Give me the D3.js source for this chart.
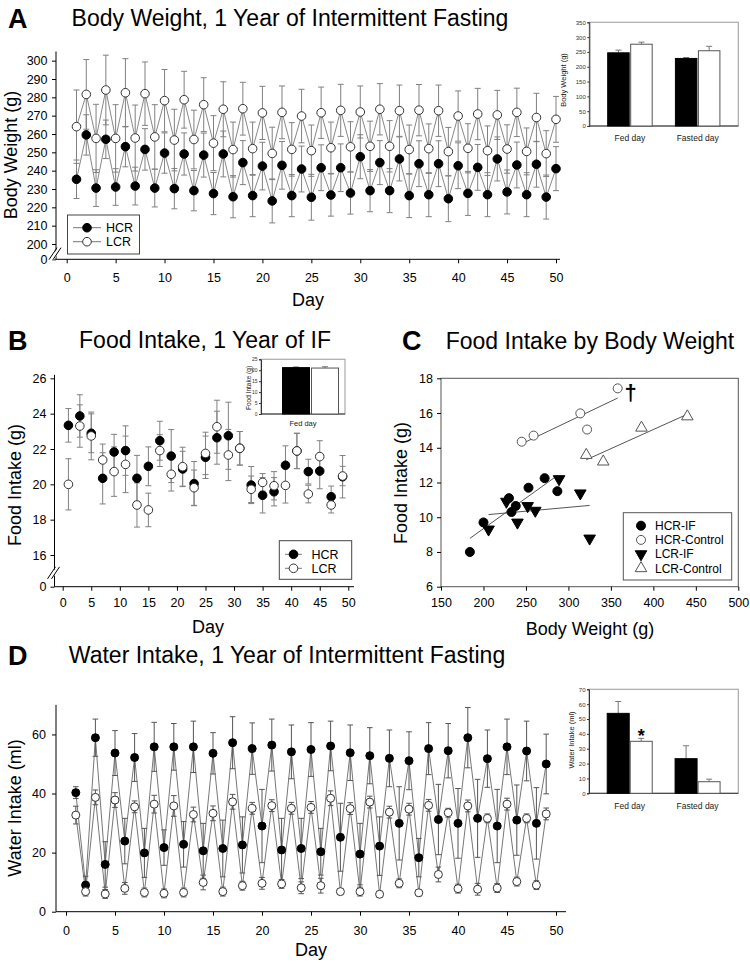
<!DOCTYPE html>
<html><head><meta charset="utf-8">
<script src="https://cdn.jsdelivr.net/npm/d3@7"></script>
<style>html,body{margin:0;padding:0;background:#fff;}</style>
</head><body>
<script>
// ---------------- DATA ----------------
// Panel A: body weight (g), days 1..50
const daysA = d3.range(1, 51);
const hcrWeight = [235.3,259.5,230.5,257.1,231.1,253.1,231.6,251.6,230.5,249.6,
  230.2,249.1,229.1,248.5,227.5,249.1,225.8,244.4,226.4,242.5,
  223.5,242.9,226.4,240.9,225.5,241.6,226.7,241.6,227.8,247.6,
  229.1,244.4,229.1,246.4,226.4,243.8,226.9,243.8,224.7,242.7,
  227.6,241.8,226.9,246.4,228.4,243.1,226.9,243.5,225.6,241.1];
const hcrWeightErr = [10.5,11,10,10.5,10,11,10.3,11.3,10.3,11,
  11,11.5,11,12,11.5,12.5,11.5,12,11.5,13,
  12,13,11.5,12.5,12.5,12.5,11.5,13,11.5,12,
  11.5,12,12,12,12,12.5,12,12.5,12.5,12.5,
  12,12.5,12,12,12,12.5,12,12.5,12,12];
const lcrWeight = [264,281.6,257.6,284,257.6,282.5,257.8,282,258.4,278.2,
  256.7,278.7,257,276,255,273.5,251.5,273.8,252,271.5,
  249.4,271.8,251.6,269.8,250.9,271.6,252.5,272.9,253,272,
  253.3,273.5,253.3,272.7,251.5,273,252,272.7,250.4,269.8,
  252.2,270.9,250.9,270.4,251.8,271.8,250.5,269,249.3,268];
const lcrWeightErr = [20,19,18.6,19,18.4,18.6,18,17.3,17.6,17,
  16.8,15.5,16,14.7,15,15,15,14.4,14.5,14.5,
  14.3,14.4,14.6,14.6,14,14,14,14.2,13.7,14.2,
  13.7,14,14,14,13.4,14,13.5,14,13.2,13.7,
  13.4,14,13.5,13.4,13.2,13.2,12.8,13.2,12.5,12.5];
const weightTicks = [0,200,210,220,230,240,250,260,270,280,290,300];
// Panel A inset
const insetCats = ["Fed day","Fasted day"];
const bwInsetHCR = [247,228], bwInsetHCRErr = [9,3];
const bwInsetLCR = [276,254], bwInsetLCRErr = [7,15];

// Panel B: food intake (g), odd days
const daysB = d3.range(1, 50, 2);
const hcrFood = [23.34,23.87,22.89,20.34,21.83,21.91,20.34,21.02,22.47,21.6,20.87,20.04,21.53,
  22.64,22.75,22.04,19.96,19.38,19.58,21.08,21.89,20.72,20.75,19.3,20.43];
const hcrFoodErr = [0.95,1.2,1.1,1.45,1.0,1.4,1.3,1.1,1.1,1.5,1.0,1.25,1.2,
  1.5,1.9,0.95,1.05,1.0,0.8,1.1,1.0,0.7,1.0,0.6,1.2];
const lcrFood = [20.0,23.3,22.74,21.38,20.72,21.13,18.83,18.55,21.91,20.57,21.0,19.81,21.75,
  23.26,21.66,22.04,19.72,20.11,19.92,19.94,21.89,19.45,21.57,18.83,20.47];
const lcrFoodErr = [1.45,1.2,1.35,0.9,1.4,1.6,1.25,0.95,0.9,0.95,1.1,1.0,1.2,
  1.5,1.45,0.95,0.75,0.5,0.8,1.0,1.0,0.5,0.9,0.45,0.55];
const foodTicks = [0,16,18,20,22,24,26];
const foodInsetCats = ["Fed day"];
const foodInsetHCR = [21.2], foodInsetHCRErr = [0.3];
const foodInsetLCR = [21.0], foodInsetLCRErr = [0.6];

// Panel C: food intake vs body weight
const hcrIfBW = [184,200,230,233,238,253,272,287];
const hcrIfFI = [8.0,9.7,11.1,10.3,10.65,11.7,12.25,11.5];
const hcrCtlBW = [245,259,314,322,358];
const hcrCtlFI = [14.35,14.7,15.98,15.05,17.42];
const lcrIfBW = [206,227,240,252,261,289,314,325];
const lcrIfFI = [9.3,10.9,9.7,10.65,10.38,12.2,11.38,8.78];
const lcrCtlBW = [321,341,386,440];
const lcrCtlFI = [13.58,13.2,15.15,15.8];
const groupNames = ["HCR-IF","HCR-Control","LCR-IF","LCR-Control"];

// Panel D: water intake (ml), days 1..49
const daysD = d3.range(1, 50);
const hcrWater = [40.3,9.0,58.9,16.0,53.7,23.9,52.2,19.9,55.8,21.7,
  55.8,22.8,55.8,20.6,53.6,21.4,57.2,22.6,55.2,29.0,
  56.4,20.9,54.1,21.4,54.9,20.3,56.1,25.2,53.8,19.5,
  52.8,22.2,51.9,29.9,51.1,18.3,55.2,31.2,54.5,29.9,
  58.9,31.6,51.8,29.0,55.8,31.0,54.4,29.9,50.0];
const hcrWaterErr = [2,3,6.3,7.7,7.6,7.7,8.1,8.3,8.3,6,
  7.9,7.7,8.7,9.3,7,9.6,8.8,9.5,8.7,12.4,
  8.8,10.7,9.1,10.2,9.1,7.9,8.4,11.5,9.4,10.4,
  9.5,9.9,9.6,12.4,9.8,6.5,8.8,11.9,9.2,11.8,
  10.2,13.2,9.7,12.4,9.4,11.9,10.1,12.1,10.1];
const lcrWater = [32.7,6.8,38.7,6.0,37.8,7.9,35.5,6.5,36.4,6.2,
  35.8,6.5,32.9,9.9,33.3,6.8,37.2,8.8,35.0,9.6,
  35.9,9.4,35.0,8.1,35.3,8.8,38.4,6.8,34.9,6.8,
  37.1,5.9,33.7,9.6,34.7,6.4,36.0,12.6,33.5,7.8,
  35.8,7.6,31.6,8.0,36.4,10.2,31.6,9.0,33.1];
const lcrWaterErr = [3,1.5,2.5,1.5,2.5,2,2,1.5,3,1.5,
  3.5,1.5,2.5,2.5,2.5,1.5,2.5,1.5,2,2,
  2,1.5,2,2,2,2.5,2.5,1,2,1.5,
  2,1,2,1.5,2,1,2,2.5,1.5,1.5,
  2,2,1.5,1.5,2,1.5,1.5,1.5,2];
const waterTicks = [0,20,40,60];
const waterInsetHCR = [53.8,23.3], waterInsetHCRErr = [8,8.7];
const waterInsetLCR = [35.0,7.8], waterInsetLCRErr = [2,1.7];

const dayTicks = d3.range(0, 51, 5);
const seriesNames = ["HCR","LCR"];

// ---------------- DRAWING ----------------
const FONT = "Arial, 'Liberation Sans', Helvetica, sans-serif";
const svg = d3.select("body").append("svg").attr("width",750).attr("height",965)
  .style("display","block").attr("font-family",FONT);

function txt(x, y, s, size, o = {}) {
  const t = svg.append("text").attr("x",x).attr("y",y).text(s).attr("font-size",size)
    .attr("font-family",FONT).attr("text-anchor",o.anchor || "start").attr("fill",o.fill || "#000");
  if (o.bold) t.attr("font-weight","bold");
  if (o.rotate) t.attr("transform",`rotate(-90,${x},${y})`);
  return t;
}
function styleAxis(a, fs, col) {
  a.attr("font-family",FONT);
  a.selectAll("text").attr("font-size",fs).attr("fill",col || "#000").attr("font-family",FONT);
  a.selectAll("line").attr("stroke",col || "#000");
}

function seriesPanel(o) {
  const g = svg.append("g");
  const x = d3.scaleLinear().domain([0,50]).range(o.xRange);
  const y = d3.scaleLinear().domain(o.yDomain).range(o.yRange);
  const yTop = o.yRange[o.yRange.length-1];
  g.append("line").attr("x1",o.axisX).attr("x2",o.axisX).attr("y1",yTop).attr("y2",o.axisY).attr("stroke","#000");
  g.append("line").attr("x1",o.axisX).attr("x2",o.xEnd).attr("y1",o.axisY).attr("y2",o.axisY).attr("stroke","#000");
  const gx = g.append("g").attr("transform",`translate(0,${o.axisY})`)
    .call(d3.axisBottom(x).tickValues(dayTicks).tickSize(4).tickPadding(o.xPad));
  const gy = g.append("g").attr("transform",`translate(${o.axisX},0)`)
    .call(d3.axisLeft(y).tickValues(o.yTicks).tickSize(4).tickPadding(o.yPad));
  [gx,gy].forEach(a => { a.select(".domain").remove(); styleAxis(a, o.fs); });
  if (o.brk) {
    const yb = (y(o.brk[0]) + y(o.brk[1]))/2 + 2, ax = o.axisX;
    g.append("polygon").attr("points",`${ax-6},${yb+6} ${ax+2},${yb-6} ${ax+6},${yb-6} ${ax-2},${yb+6}`).attr("fill","#fff");
    g.append("line").attr("x1",ax-7).attr("y1",yb+6).attr("x2",ax+1).attr("y2",yb-6).attr("stroke","#000");
    g.append("line").attr("x1",ax-3).attr("y1",yb+6).attr("x2",ax+5).attr("y2",yb-6).attr("stroke","#000");
  }
  const sets = o.series.map(s => s.days.map((d,i)=>({d, v:s.vals[i], e:s.errs[i]})));
  if (o.connect) sets.forEach(pts => {
    g.append("path").datum(pts).attr("d", d3.line().x(p=>x(p.d)).y(p=>y(p.v)))
      .attr("fill","none").attr("stroke",o.lineColor).attr("stroke-width",1);
  });
  sets.forEach(pts => {
    const eg = g.append("g").attr("stroke",o.errColor).attr("stroke-width",1);
    pts.forEach(p => {
      const cx = x(p.d), y1 = y(p.v - p.e), y2 = y(p.v + p.e);
      eg.append("line").attr("x1",cx).attr("x2",cx).attr("y1",y1).attr("y2",y2);
      eg.append("line").attr("x1",cx-o.cap).attr("x2",cx+o.cap).attr("y1",y1).attr("y2",y1);
      eg.append("line").attr("x1",cx-o.cap).attr("x2",cx+o.cap).attr("y1",y2).attr("y2",y2);
    });
  });
  sets.forEach((pts, si) => {
    g.append("g").selectAll("circle").data(pts).join("circle")
      .attr("cx",p=>x(p.d)).attr("cy",p=>y(p.v)).attr("r",o.r)
      .attr("fill", o.series[si].filled ? "#000" : "#fff")
      .attr("stroke", o.series[si].filled ? "#000" : "#333").attr("stroke-width",1);
  });
  return {x,y,g};
}

function legendBox(o) {
  const g = svg.append("g");
  g.append("rect").attr("x",o.x).attr("y",o.y).attr("width",o.w).attr("height",o.h)
    .attr("fill","#fff").attr("stroke","#444");
  seriesNames.forEach((n,i) => {
    const yy = o.y0 + i*o.dy;
    g.append("line").attr("x1",o.lx1).attr("x2",o.lx2).attr("y1",yy).attr("y2",yy).attr("stroke","#777");
    g.append("circle").attr("cx",(o.lx1+o.lx2)/2).attr("cy",yy).attr("r",o.r)
      .attr("fill", i===0 ? "#000" : "#fff").attr("stroke", i===0 ? "#000" : "#333");
    g.append("text").attr("x",o.tx).attr("y",yy+o.fs*0.36).text(n).attr("font-size",o.fs).attr("font-family",FONT);
  });
}

function barInset(o) {
  const g = svg.append("g");
  const x = d3.scalePoint().domain(o.cats).range([o.x0,o.x1]).padding(o.pad);
  const y = d3.scaleLinear().domain([0,o.yMax]).range([o.y1,o.y0]);
  g.append("rect").attr("x",o.x0).attr("y",o.y0).attr("width",o.x1-o.x0).attr("height",o.y1-o.y0)
    .attr("fill","none").attr("stroke","#aaa").attr("stroke-width",1.2);
  const gy = g.append("g").attr("transform",`translate(${o.x0},0)`)
    .call(d3.axisLeft(y).tickValues(d3.range(0,o.yMax+1e-6,o.yStep)).tickSize(2).tickPadding(1.5));
  gy.select(".domain").attr("stroke","#333");
  styleAxis(gy, o.tickFs, "#333");
  g.append("line").attr("x1",o.x0).attr("x2",o.x1).attr("y1",o.y1).attr("y2",o.y1).attr("stroke","#333");
  const series = [{vals:o.hcr, errs:o.hcrErr, fill:"#000"}, {vals:o.lcr, errs:o.lcrErr, fill:"#fff"}];
  series.forEach((s,si) => {
    o.cats.forEach((c,i) => {
      const cx = x(c) + o.offset;
      const bx = si===0 ? cx - o.gap/2 - o.barW : cx + o.gap/2;
      const mx = bx + o.barW/2;
      const yt = y(s.vals[i]), ye = y(s.vals[i] + s.errs[i]);
      g.append("line").attr("x1",mx).attr("x2",mx).attr("y1",yt).attr("y2",ye).attr("stroke","#777");
      g.append("line").attr("x1",mx-3).attr("x2",mx+3).attr("y1",ye).attr("y2",ye).attr("stroke","#777");
      g.append("rect").attr("x",bx).attr("y",yt).attr("width",o.barW).attr("height",o.y1-yt)
        .attr("fill",s.fill).attr("stroke",si===0 ? "#000" : "#555").attr("stroke-width",1);
    });
  });
  o.cats.forEach(c => {
    g.append("text").attr("x",x(c)).attr("y",o.catY).text(c).attr("text-anchor","middle")
      .attr("font-size",o.catFs).attr("font-family",FONT).attr("fill","#222");
  });
  g.append("text").attr("transform",`translate(${o.titleX},${o.titleY}) rotate(-90)`)
    .attr("text-anchor","middle").text(o.title).attr("font-size",o.titleFs).attr("font-family",FONT).attr("fill","#222");
  return {x,y,g};
}

// ===== Panel A =====
txt(8, 28, "A", 27, {bold:true});
txt(290, 26, "Body Weight, 1 Year of Intermittent Fasting", 23, {anchor:"middle"});
seriesPanel({
  xRange:[66.7,556], axisX:56, xEnd:560, axisY:259.3,
  yDomain:[0,200,305], yRange:[259.3,244,51.5], yTicks:weightTicks,
  xPad:10, yPad:4.5, fs:12.5, brk:[0,200],
  connect:true, lineColor:"#888", errColor:"#808080", cap:3, r:4.3,
  series:[{days:daysA, vals:hcrWeight, errs:hcrWeightErr, filled:true},
          {days:daysA, vals:lcrWeight, errs:lcrWeightErr, filled:false}]
});
legendBox({x:67.5, y:215, w:72, h:39, y0:227.7, dy:14, lx1:73, lx2:101, tx:106, r:4.3, fs:12.5});
txt(16.5, 155, "Body Weight (g)", 18, {anchor:"middle", rotate:true});
txt(308, 306, "Day", 18, {anchor:"middle"});
barInset({x0:589.3, x1:738.3, y0:22.3, y1:126, yMax:350, yStep:50, pad:0.6, offset:0,
  cats:insetCats, hcr:bwInsetHCR, hcrErr:bwInsetHCRErr, lcr:bwInsetLCR, lcrErr:bwInsetLCRErr,
  barW:21.5, gap:1.5, tickFs:6, catFs:8.5, catY:141, title:"Body Weight (g)", titleX:566, titleY:80, titleFs:7.5});

// ===== Panel B =====
txt(8, 350, "B", 27, {bold:true});
txt(205, 348, "Food Intake, 1 Year of IF", 23, {anchor:"middle"});
seriesPanel({
  xRange:[62.7,348.3], axisX:54.5, xEnd:354, axisY:586.7,
  yDomain:[0,16,26.2], yRange:[586.7,555,374.8], yTicks:foodTicks,
  xPad:7.6, yPad:4, fs:12.5, brk:[0,16],
  connect:false, errColor:"#808080", cap:3, r:4.3,
  series:[{days:daysB, vals:hcrFood, errs:hcrFoodErr, filled:true},
          {days:daysB, vals:lcrFood, errs:lcrFoodErr, filled:false}]
});
legendBox({x:279.3, y:540.7, w:72.4, h:38.6, y0:554.3, dy:14, lx1:285, lx2:302, tx:311.5, r:4.3, fs:12.5});
txt(21, 485, "Food Intake (g)", 18, {anchor:"middle", rotate:true});
txt(208, 633, "Day", 18, {anchor:"middle"});
barInset({x0:261, x1:345, y0:359.3, y1:414, yMax:25, yStep:5, pad:0.5, offset:7.5,
  cats:foodInsetCats, hcr:foodInsetHCR, hcrErr:foodInsetHCRErr, lcr:foodInsetLCR, lcrErr:foodInsetLCRErr,
  barW:27, gap:2, tickFs:5, catFs:7.5, catY:426, title:"Food Intake (g)", titleX:251, titleY:388, titleFs:6.5});

// ===== Panel C =====
txt(402, 350, "C", 27, {bold:true});
txt(590, 349, "Food Intake by Body Weight", 23, {anchor:"middle"});
(function(){
  const g = svg.append("g");
  const x = d3.scaleLinear().domain([150,500]).range([441,738.3]);
  const y = d3.scaleLinear().domain([6,18]).range([586.7,378.3]);
  g.append("rect").attr("x",441).attr("y",378.3).attr("width",297.3).attr("height",208.4)
    .attr("fill","none").attr("stroke","#555");
  const gx = g.append("g").attr("transform","translate(0,586.7)")
    .call(d3.axisBottom(x).tickValues(d3.range(150,501,50)).tickSize(4).tickPadding(7.6));
  const gy = g.append("g").attr("transform","translate(441,0)")
    .call(d3.axisLeft(y).tickValues(d3.range(6,18.1,2)).tickSize(4).tickPadding(4));
  [gx,gy].forEach(a => { a.select(".domain").remove(); styleAxis(a, 12.5); });
  const groups = [
    {bw:hcrIfBW, fi:hcrIfFI, shape:"circle", filled:true},
    {bw:hcrCtlBW, fi:hcrCtlFI, shape:"circle", filled:false},
    {bw:lcrIfBW, fi:lcrIfFI, shape:"down", filled:true},
    {bw:lcrCtlBW, fi:lcrCtlFI, shape:"up", filled:false}];
  // regression lines computed from the points
  groups.forEach(gr => {
    const mx = d3.mean(gr.bw), my = d3.mean(gr.fi);
    const sxy = d3.sum(gr.bw, (v,i) => (v-mx)*(gr.fi[i]-my));
    const sxx = d3.sum(gr.bw, v => (v-mx)*(v-mx));
    const b = sxy/sxx, a = my - b*mx;
    const [x0,x1] = d3.extent(gr.bw);
    g.append("line").attr("x1",x(x0)).attr("x2",x(x1)).attr("y1",y(a+b*x0)).attr("y2",y(a+b*x1))
      .attr("stroke","#555").attr("stroke-width",1);
  });
  const sym = d3.symbol().type(d3.symbolTriangle).size(58);
  function drawMark(gg, cx, cy, gr) {
    if (gr.shape === "circle") {
      gg.append("circle").attr("cx",cx).attr("cy",cy).attr("r",4.5)
        .attr("fill",gr.filled?"#000":"#fff").attr("stroke",gr.filled?"#000":"#555");
    } else {
      gg.append("path").attr("d",sym())
        .attr("transform",`translate(${cx},${cy})` + (gr.shape==="down"?" rotate(180)":""))
        .attr("fill",gr.filled?"#000":"#fff").attr("stroke",gr.filled?"#000":"#555");
    }
  }
  groups.forEach(gr => gr.bw.forEach((v,i) => drawMark(g, x(v), y(gr.fi[i]), gr)));
  // dagger beside the highest HCR-Control point
  const iMax = d3.maxIndex(hcrCtlFI);
  g.append("text").attr("x",x(hcrCtlBW[iMax])+13).attr("y",y(hcrCtlFI[iMax])+12).text("\u2020")
    .attr("text-anchor","middle").attr("font-size",22).attr("font-weight","bold").attr("font-family",FONT);
  // legend
  g.append("rect").attr("x",623.3).attr("y",512.7).attr("width",108.4).attr("height",67.3)
    .attr("fill","#fff").attr("stroke","#555");
  groupNames.forEach((n,i) => {
    const yy = 525.7 + i*14.2;
    drawMark(g, 641, yy, groups[i]);
    g.append("text").attr("x",655).attr("y",yy+4.3).text(n).attr("font-size",12).attr("font-family",FONT);
  });
})();
txt(407, 483, "Food Intake (g)", 18, {anchor:"middle", rotate:true});
txt(590, 635, "Body Weight (g)", 18, {anchor:"middle"});

// ===== Panel D =====
txt(8, 665, "D", 27, {bold:true});
txt(287, 663, "Water Intake, 1 Year of Intermittent Fasting", 23, {anchor:"middle"});
seriesPanel({
  xRange:[66,556], axisX:56, xEnd:566, axisY:911.7,
  yDomain:[0,70], yRange:[911.7,704.9], yTicks:waterTicks,
  xPad:10, yPad:6, fs:12.5, brk:null,
  connect:true, lineColor:"#777", errColor:"#555", cap:2.8, r:4,
  series:[{days:daysD, vals:hcrWater, errs:hcrWaterErr, filled:true},
          {days:daysD, vals:lcrWater, errs:lcrWaterErr, filled:false}]
});
txt(20.5, 808, "Water Intake (ml)", 18, {anchor:"middle", rotate:true});
txt(311, 956, "Day", 18, {anchor:"middle"});
const insD = barInset({x0:589, x1:738.3, y0:689.3, y1:793.3, yMax:70, yStep:10, pad:0.6, offset:0,
  cats:insetCats, hcr:waterInsetHCR, hcrErr:waterInsetHCRErr, lcr:waterInsetLCR, lcrErr:waterInsetLCRErr,
  barW:22, gap:1, tickFs:6, catFs:8.5, catY:809, title:"Water Intake (ml)", titleX:574, titleY:740, titleFs:7.5});
insD.g.append("text").attr("x", insD.x("Fed day") + 0.5 + 11).attr("y", insD.y(waterInsetLCR[0] + waterInsetLCRErr[0]) + 4)
  .text("*").attr("text-anchor","middle").attr("font-size",18).attr("font-weight","bold").attr("font-family",FONT);
</script>
</body></html>
